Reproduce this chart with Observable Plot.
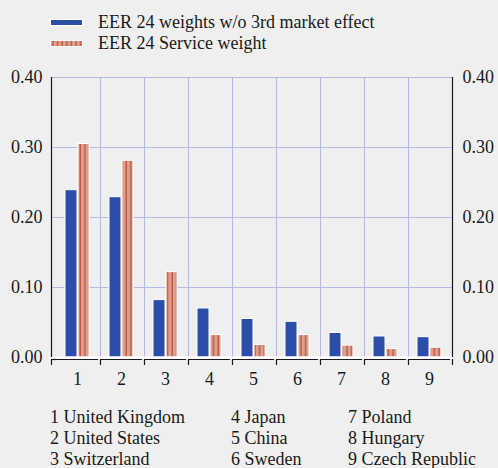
<!DOCTYPE html>
<html>
<head>
<meta charset="utf-8">
<script src="https://cdn.jsdelivr.net/npm/d3@7"></script>
<script src="https://cdn.jsdelivr.net/npm/@observablehq/plot@0.6"></script>
<style>
  html, body { margin: 0; padding: 0; background: #efefef; }
  body { width: 498px; height: 468px; position: relative; overflow: hidden; color: #1a1a1a; font-size: 18px; }
  .serif, .lg, .col { font-family: "Liberation Serif", serif; }
  .lg { position: absolute; line-height: 21px; white-space: nowrap; }
  .sw { position: absolute; left: 50px; width: 31px; height: 5px; border: 1px solid #fff; }
  .lt { left: 98px; }
  #chart { position: absolute; left: 0; top: 60px; }
  #chart svg text { font-family: "Liberation Serif", serif; }
  .col { position: absolute; top: 406.5px; line-height: 21px; white-space: nowrap; }
</style>
</head>
<body class="serif">
<div id="legend"></div>
<div id="chart"></div>
<div id="list"></div>
<script>
const categories = [1, 2, 3, 4, 5, 6, 7, 8, 9];
const countries = ["United Kingdom", "United States", "Switzerland", "Japan", "China", "Sweden", "Poland", "Hungary", "Czech Republic"];
const seriesNames = ["EER 24 weights w/o 3rd market effect", "EER 24 Service weight"];
const eerWeights = [0.239, 0.229, 0.082, 0.070, 0.055, 0.051, 0.035, 0.030, 0.029];
const serviceWeights = [0.305, 0.281, 0.122, 0.032, 0.018, 0.032, 0.017, 0.012, 0.014];
const yTicks = [0, 0.1, 0.2, 0.3, 0.4];

const BLUE = "#2c4ea8";
const STRIPE_BG = "#dba18c";
const STRIPE_LINE = "#b5392a";
const GRID = "#b4b9e6";
const INK = "#1a1a1a";
const FONT = '"Liberation Serif", serif';

const blueData = categories.map((c, i) => ({cat: c, value: eerWeights[i]}));
const redData = categories.map((c, i) => ({cat: c, value: serviceWeights[i]}));
const innerBounds = categories.slice(1).map(c => c - 0.5);
const lastBound = [categories[categories.length - 1] + 0.5];
const firstBound = [categories[0] - 0.5];

const plot = Plot.plot({
  width: 498,
  height: 340,
  marginTop: 17,
  marginBottom: 43,
  marginLeft: 56,
  marginRight: 46,
  style: {background: "transparent", fontFamily: FONT, fontSize: "18px", color: INK},
  x: {type: "linear", domain: [firstBound[0], lastBound[0]], axis: null},
  y: {domain: [0, 0.4], axis: null},
  marks: [
    Plot.ruleY(yTicks.slice(1), {stroke: GRID, strokeWidth: 1, insetLeft: -5}),
    Plot.ruleX(innerBounds, {y1: 0, y2: 0.4, stroke: GRID, strokeWidth: 1}),
    Plot.rectY(blueData, {x1: d => d.cat - 0.5, x2: d => d.cat + 0.5, y1: 0, y2: "value",
      insetLeft: 9, insetRight: 23, fill: BLUE, stroke: "#fff", strokeWidth: 1}),
    Plot.rectY(redData, {x1: d => d.cat - 0.5, x2: d => d.cat + 0.5, y1: 0, y2: "value",
      insetLeft: 22, insetRight: 11, fill: "url(#stripes)", stroke: "#fff", strokeWidth: 1}),
    Plot.ruleY([0], {stroke: "#fff", strokeWidth: 2, insetLeft: -5}),
    Plot.ruleY(categories, {x1: c => c - 0.5, x2: c => c + 0.5, y: () => 0, dy: 2, stroke: INK, strokeWidth: 1.2,
      insetRight: 2}),
    Plot.ruleY(firstBound, {x1: d => d, x2: d => d, y: () => 0, dy: 2, stroke: INK, strokeWidth: 1.2, insetLeft: -5}),
    Plot.axisX(innerBounds.concat(lastBound), {anchor: "bottom", tickSize: 6, dy: 2, tickFormat: () => "", label: null, stroke: INK, strokeWidth: 1.2}),
    Plot.axisX(firstBound, {anchor: "bottom", tickSize: 6, dy: 2, dx: -5, tickFormat: () => "", label: null, stroke: INK, strokeWidth: 1.2}),
    Plot.ruleX(firstBound, {y1: 0, y2: 0.4, dx: -5, stroke: INK, strokeWidth: 1.2}),
    Plot.ruleX(lastBound, {y1: 0, y2: 0.4, stroke: INK, strokeWidth: 1.2}),
    Plot.axisY(yTicks, {anchor: "left", tickSize: 0, tickPadding: 14, tickFormat: d3.format(".2f"), label: null, fontSize: 18, fill: INK, fontFamily: FONT}),
    Plot.axisY(yTicks, {anchor: "right", tickSize: 0, tickPadding: 10, tickFormat: d3.format(".2f"), label: null, fontSize: 18, fill: INK, fontFamily: FONT}),
    Plot.text(categories, {x: c => c, y: () => 0, dy: 22, dx: -1, text: c => String(c), fontSize: 18, fill: INK, fontFamily: FONT})
  ]
});

const ns = "http://www.w3.org/2000/svg";
const defs = document.createElementNS(ns, "defs");
defs.innerHTML = `<pattern id="stripes" patternUnits="userSpaceOnUse" width="4.6" height="10">
  <rect width="4.6" height="10" fill="${STRIPE_BG}"/>
  <line x1="2" x2="2" y1="0" y2="10" stroke="${STRIPE_LINE}" stroke-width="1"/></pattern>`;
plot.insertBefore(defs, plot.firstChild);
document.getElementById("chart").appendChild(plot);

const legend = document.getElementById("legend");
const swatches = [
  `<div class="sw" style="top:19px;background:${BLUE}"></div>`,
  `<svg class="sw" style="top:40px;" width="31" height="5"><defs><pattern id="lgp" patternUnits="userSpaceOnUse" width="4.6" height="10"><rect width="4.6" height="10" fill="${STRIPE_BG}"/><line x1="2" x2="2" y1="0" y2="10" stroke="${STRIPE_LINE}" stroke-width="1"/></pattern></defs><rect width="31" height="5" fill="url(#lgp)"/></svg>`
];
legend.innerHTML = seriesNames.map((s, i) =>
  swatches[i] + `<div class="lg lt" style="top:${11.5 + 21 * i}px">${s}</div>`).join("");

const list = document.getElementById("list");
const colX = [50, 231, 348];
let html = "";
for (let k = 0; k < 3; k++) {
  const rows = categories.slice(k * 3, k * 3 + 3).map(c => `${c} ${countries[c - 1]}`);
  html += `<div class="col" style="left:${colX[k]}px">${rows.join("<br>")}</div>`;
}
list.innerHTML = html;
</script>
</body>
</html>
